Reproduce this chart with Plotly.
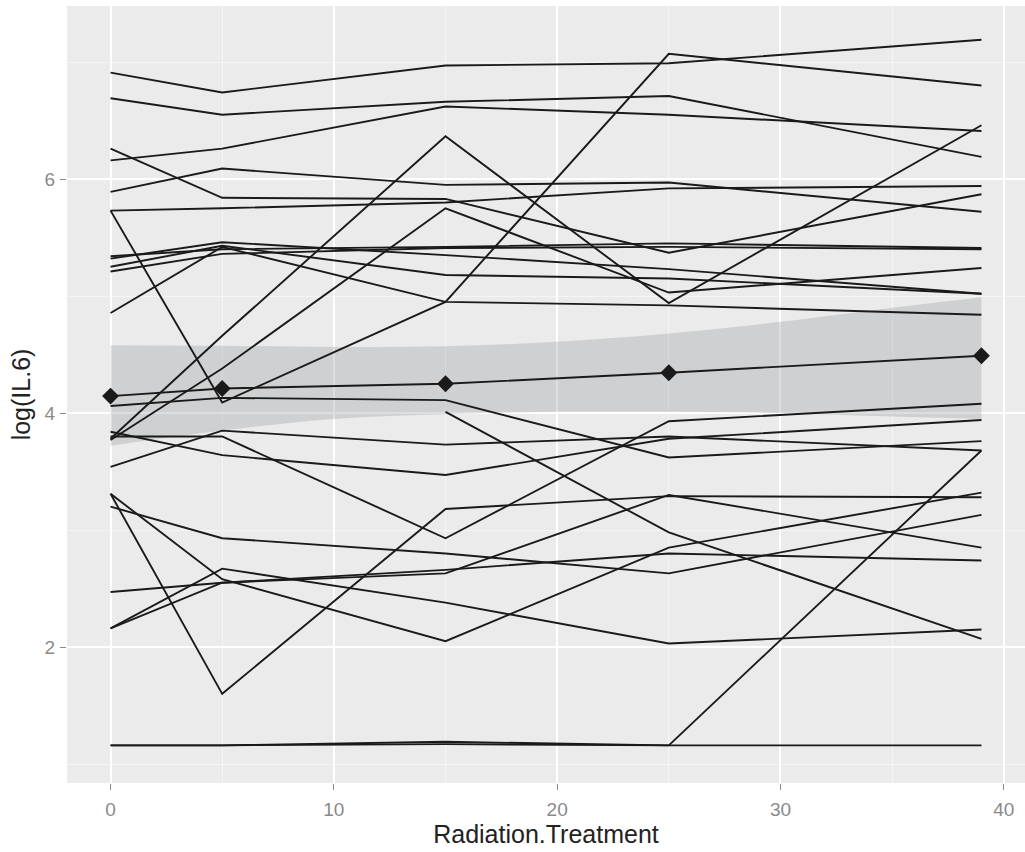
import plotly.graph_objects as go

# ---- data ----
times = [0, 5, 15, 25, 39]

s01 = [6.91, 6.74, 6.97, 6.99, 7.19]
s02 = [6.69, 6.55, 6.66, 6.71, 6.19]
s03 = [6.16, 6.26, 6.62, 6.55, 6.41]
s04 = [6.26, 5.84, 5.83, 5.37, 5.87]
s05 = [5.89, 6.09, 5.95, 5.97, 5.72]
s06 = [5.73, 5.75, 5.80, 5.92, 5.94]
s07 = [5.73, 4.09, 4.95, 7.07, 6.80]
s08 = [5.34, 5.40, 5.42, 5.45, 5.41]
s09 = [5.32, 5.46, 5.35, 5.23, 5.02]
s10 = [5.25, 5.43, 5.18, 5.15, 5.02]
s11 = [5.21, 5.36, 5.41, 5.42, 5.40]
s12 = [4.855, 5.42, 4.95, 4.92, 4.84]
s13 = [3.78, 4.66, 6.365, 4.94, 6.46]
s14 = [3.77, 4.38, 5.75, 5.03, 5.24]
s15 = [4.06, 4.13, 4.11, 3.62, 3.76]
s16 = [3.80, 3.80, 2.93, 3.93, 4.08]
s17 = [3.84, 3.64, 3.47, 3.78, 3.94]
s18 = [3.54, 3.85, 3.73, 3.80, 3.68]
s19 = [None, None, 4.01, 2.98, 2.07]
s20 = [3.31, 1.60, 3.18, 3.29, 3.28]
s21 = [3.31, 2.58, 2.05, 2.85, 3.32]
s22 = [3.20, 2.93, 2.80, 2.63, 3.13]
s23 = [2.47, 2.55, 2.63, 3.30, 2.85]
s24 = [2.16, 2.67, 2.38, 2.03, 2.15]
s25 = [2.16, 2.55, 2.66, 2.80, 2.74]
s26 = [1.16, 1.16, 1.19, 1.16, 1.16]
s27 = [1.16, 1.16, 1.17, 1.16, 3.68]

subjects = [s01, s02, s03, s04, s05, s06, s07, s08, s09, s10, s11, s12, s13, s14,
            s15, s16, s17, s18, s19, s20, s21, s22, s23, s24, s25, s26, s27]

mean_vals = [4.145, 4.21, 4.25, 4.345, 4.49]

band_x = [0, 5, 10, 15, 20, 25, 30, 35, 39]
band_upper = [4.58, 4.575, 4.565, 4.57, 4.61, 4.68, 4.78, 4.90, 4.99]
band_lower = [3.72, 3.85, 3.95, 3.99, 4.01, 4.01, 4.00, 3.97, 3.95]

x_ticks = [0, 10, 20, 30, 40]
y_ticks = [2, 4, 6]

# ---- figure ----
fig = go.Figure()

fig.add_trace(go.Scatter(x=band_x, y=band_lower, mode="lines", line=dict(width=0, shape="spline"),
                         showlegend=False, hoverinfo="skip"))
fig.add_trace(go.Scatter(x=band_x, y=band_upper, mode="lines", line=dict(width=0, shape="spline"),
                         fill="tonexty", fillcolor="rgba(150,152,156,0.32)",
                         showlegend=False, hoverinfo="skip"))

for s in subjects:
    fig.add_trace(go.Scatter(x=times, y=s, mode="lines", connectgaps=False,
                             line=dict(color="#1a1a1a", width=1.9),
                             showlegend=False, hoverinfo="skip"))

fig.add_trace(go.Scatter(x=times, y=mean_vals, mode="lines+markers",
                         line=dict(color="#1a1a1a", width=1.9),
                         marker=dict(symbol="diamond", size=13, color="#1a1a1a"),
                         showlegend=False, hoverinfo="skip"))

font_family = "Liberation Sans, Arial, sans-serif"

fig.update_layout(
    width=1025, height=852,
    margin=dict(l=67, r=0, t=6, b=69),
    paper_bgcolor="white",
    plot_bgcolor="#EBEBEB",
    font=dict(family=font_family),
    xaxis=dict(
        range=[-1.95, 40.95], tickmode="array", tickvals=x_ticks, automargin=False,
        ticks="outside", ticklen=6, tickwidth=1.2, tickcolor="#8a8a8a",
        tickfont=dict(size=19, color="#8a8a8a"), ticklabelstandoff=3,
        showgrid=True, gridcolor="white", gridwidth=1.6, zeroline=False, showline=False,
        minor=dict(tickvals=[5, 15, 25, 35], showgrid=True, gridcolor="#F5F5F5", gridwidth=1, ticks=""),
        title=dict(text="Radiation.Treatment", font=dict(size=25, color="#222222"), standoff=2),
    ),
    yaxis=dict(
        range=[0.838, 7.479], tickmode="array", tickvals=y_ticks, automargin=False,
        ticks="outside", ticklen=6, tickwidth=1.2, tickcolor="#8a8a8a",
        tickfont=dict(size=19, color="#8a8a8a"), ticklabelstandoff=1,
        showgrid=True, gridcolor="white", gridwidth=1.6, zeroline=False, showline=False,
        minor=dict(tickvals=[1, 3, 5, 7], showgrid=True, gridcolor="#F5F5F5", gridwidth=1, ticks=""),
        title=dict(text="log(IL.6)", font=dict(size=25, color="#222222"), standoff=6),
    ),
)

fig.write_html("out.html", config={"displayModeBar": False},
               post_script="document.body.style.margin='0';document.body.style.overflow='hidden';")
